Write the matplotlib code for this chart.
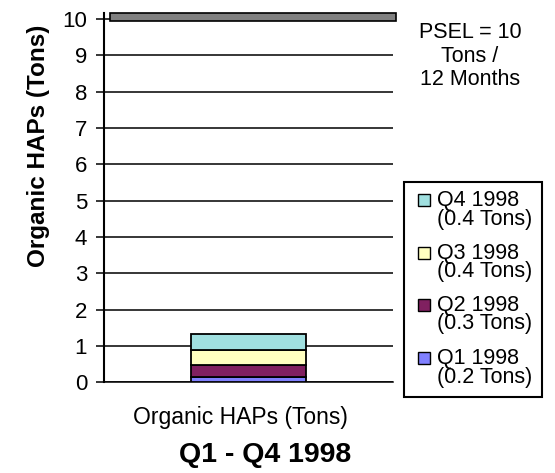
import matplotlib
matplotlib.use("Agg")
import matplotlib.pyplot as plt
from matplotlib.patches import Rectangle
from matplotlib.transforms import ScaledTranslation

plt.rcParams['font.family'] = ['Liberation Sans', 'DejaVu Sans']

# data
category = "Organic HAPs (Tons)"
quarters = ["Q1 1998", "Q2 1998", "Q3 1998", "Q4 1998"]
values = [0.15, 0.33, 0.41, 0.43]
value_labels = ["(0.2 Tons)", "(0.3 Tons)", "(0.4 Tons)", "(0.4 Tons)"]
colors = ["#8080FF", "#802060", "#FFFFC0", "#A0E0E0"]
psel = 10
psel_text = "PSEL = 10\nTons /\n12 Months"
yticks = list(range(0, 11))

W, H = 555, 473


def fpos(x, y):
    # pixel position -> figure fraction
    return x / W, 1 - y / H


fig = plt.figure(figsize=(W / 100, H / 100), dpi=100)
ax = fig.add_axes([0.187, 0.192, 0.521, 0.781])

# gridlines
for t in yticks:
    ax.axhline(t, color="black", lw=1.1, zorder=1)

# PSEL band
ax.axhspan(psel - 0.05, psel + 0.17, xmin=0.02, xmax=1.01, facecolor="#808080",
           edgecolor="black", lw=1.2, zorder=2, clip_on=False)

# stacked bar
bottom = 0
for v, c in zip(values, colors):
    ax.bar(0, v, bottom=bottom, width=0.4, color=c, edgecolor="black", lw=1.3, zorder=3)
    bottom += v

ax.set_xlim(-0.5, 0.5)
ax.set_ylim(0, 10.17)
ax.set_yticks(yticks)
ax.set_xticks([0])
ax.set_xticklabels([category])
ax.tick_params(axis="y", labelsize=16, length=6, width=1.1, direction="out", pad=6)
ax.tick_params(axis="x", labelsize=16.5, length=0, pad=17)
for lab in ax.get_xticklabels():
    lab.set_transform(lab.get_transform() + ScaledTranslation(-0.08, 0, fig.dpi_scale_trans))
for s in ["top", "right"]:
    ax.spines[s].set_visible(False)
ax.spines["left"].set_linewidth(1.5)
ax.spines["bottom"].set_linewidth(1.1)

ax.set_ylabel("Organic HAPs (Tons)", fontsize=17.5, fontweight="bold", va="center")
ax.yaxis.set_label_coords(-0.225, 0.64)

fig.text(*fpos(265, 455), "Q1 - Q4 1998", ha="center", va="center",
         fontsize=20.5, fontweight="bold")

fig.text(*fpos(470, 56), psel_text, ha="center", va="center", fontsize=15.5,
         linespacing=1.18)

# legend box, drawn by hand (entries in reverse order, Q4 on top)
x0, y0 = fpos(404, 397)
x1, y1 = fpos(542, 182)
fig.patches.append(Rectangle((x0, y0), x1 - x0, y1 - y0, transform=fig.transFigure,
                             facecolor="white", edgecolor="black", lw=1.5, zorder=5))
row_y = [200, 253, 305, 358]
for i, (q, lab, c) in enumerate(zip(quarters[::-1], value_labels[::-1], colors[::-1])):
    yy = row_y[i]
    hx, hy = fpos(418, yy + 6)
    fig.patches.append(Rectangle((hx, hy), 12 / W, 12 / H, transform=fig.transFigure,
                                 facecolor=c, edgecolor="black", lw=1.0, zorder=6))
    fig.text(*fpos(437, yy), q, ha="left", va="center", fontsize=15.5, zorder=6)
    fig.text(*fpos(437, yy + 19), lab, ha="left", va="center", fontsize=15.5, zorder=6)

fig.savefig("out.png", dpi=100)
